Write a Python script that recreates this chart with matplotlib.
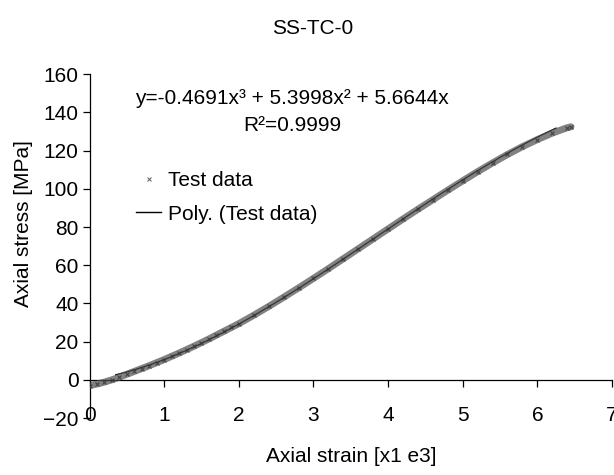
import numpy as np
import matplotlib
matplotlib.use("Agg")
from matplotlib import pyplot as plt
from matplotlib.lines import Line2D

plt.rcParams["font.family"] = ["Liberation Sans", "DejaVu Sans"]

TITLE = "SS-TC-0"
FONT_SIZE = 15

# test data (strain x1e3, stress MPa)
strain = [-0.1, 0.0, 0.1, 0.2, 0.3, 0.4, 0.5, 0.6, 0.7, 0.8, 0.9, 1.0,
          1.1, 1.2, 1.3, 1.4, 1.5, 1.6, 1.7, 1.8, 1.9, 2.0, 2.2, 2.4,
          2.6, 2.8, 3.0, 3.2, 3.4, 3.6, 3.8, 4.0, 4.2, 4.4, 4.6, 4.8,
          5.0, 5.2, 5.4, 5.6, 5.8, 6.0, 6.2, 6.4, 6.45]
stress = [-3.4, -3.0, -2.2, -1.2, 0.0, 1.4, 2.9, 4.4, 5.9, 7.4, 9.0, 10.6,
          12.3, 14.0, 15.8, 17.6, 19.5, 21.4, 23.4, 25.4, 27.4, 29.4, 33.8, 38.4,
          43.2, 48.1, 53.1, 58.2, 63.4, 68.6, 73.8, 79.0, 84.2, 89.3, 94.3, 99.3,
          104.2, 109.0, 113.6, 118.0, 122.1, 125.8, 129.2, 132.0, 132.5]

# trendline coefficients as printed on the chart (x^3, x^2, x, const)
poly_coef = [-0.4691, 5.3998, 5.6644, 0.0]
eq_text = "y=-0.4691x³ + 5.3998x² + 5.6644x"
r2_text = "R²=0.9999"

x_ticks = [0, 1, 2, 3, 4, 5, 6, 7]
y_ticks = [-20, 0, 20, 40, 60, 80, 100, 120, 140, 160]

fig = plt.figure(figsize=(6.14, 4.75), dpi=100)
ax = fig.add_axes([0.1458, 0.12, 0.8509, 0.7236])

fit_x = np.linspace(0.35, 6.25, 200)
ax.plot(fit_x, np.polyval(poly_coef, fit_x), color="black", lw=0.9, zorder=2)

# dense band of test points
ax.plot(strain, stress, color="0.3", lw=5, alpha=0.7,
        solid_capstyle="round", zorder=3)
ax.plot(strain, stress, ls="none", marker="x", ms=3.5, mew=0.8,
        color="0.2", alpha=0.8, zorder=4)

ax.set_xlim(0, 7)
ax.set_ylim(-20, 160)
ax.set_xticks(x_ticks)
ax.set_yticks(y_ticks)

ax.spines["top"].set_visible(False)
ax.spines["right"].set_visible(False)
ax.spines["bottom"].set_position(("data", 0))
ax.spines["left"].set_position(("data", 0))
for s in ("bottom", "left"):
    ax.spines[s].set_linewidth(0.9)

ax.tick_params(axis="x", direction="out", length=5, width=0.9,
               labelsize=FONT_SIZE, pad=14)
ax.tick_params(axis="y", direction="out", length=5, width=0.9,
               labelsize=FONT_SIZE, pad=3)

fig.text(0.51, 0.94, TITLE, fontsize=FONT_SIZE, ha="center", va="center")
fig.text(0.572, 0.038, "Axial strain [x1 e3]", fontsize=FONT_SIZE,
         ha="center", va="center")
fig.text(0.038, 0.53, "Axial stress [MPa]", fontsize=FONT_SIZE,
         ha="center", va="center", rotation=90)

fig.text(0.476, 0.793, eq_text, fontsize=FONT_SIZE, ha="center", va="center")
fig.text(0.476, 0.735, r2_text, fontsize=FONT_SIZE, ha="center", va="center")

handles = [
    Line2D([], [], ls="none", marker="x", ms=3, mew=0.7, color="0.35"),
    Line2D([], [], color="black", lw=1.0),
]
fig.legend(handles, ["Test data", "Poly. (Test data)"], loc="upper left",
           bbox_to_anchor=(0.222, 0.64), frameon=False, fontsize=FONT_SIZE,
           handlelength=1.2, handletextpad=0.3, labelspacing=0.7,
           borderpad=0, borderaxespad=0)

fig.savefig("out.png", dpi=100)
